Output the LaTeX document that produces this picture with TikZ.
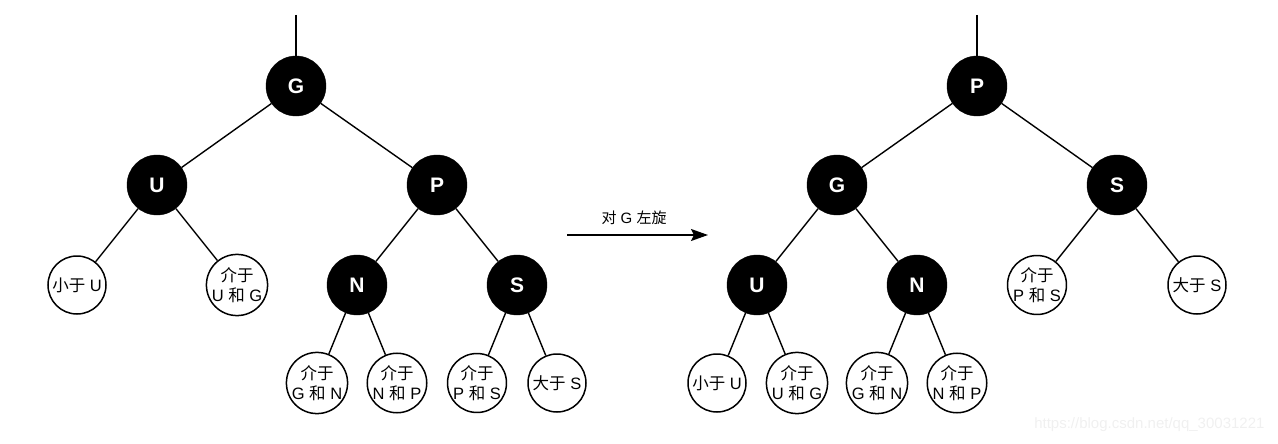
\documentclass[tikz,border=0pt]{standalone}
\usepackage{fontspec}
\setmainfont{Liberation Sans}
\newfontfamily\cjk{Noto Sans CJK SC}
\newcommand{\zh}[1]{{\cjk #1}}
\usetikzlibrary{arrows.meta}
\tikzset{
  blk/.style={circle, fill=black, draw=black, text=white, minimum size=60pt, inner sep=0pt,
    font=\fontsize{21}{24}\selectfont\bfseries},
  wht/.style={circle, draw=black, fill=white, line width=1.5pt, minimum size=58pt, inner sep=0pt,
    align=center, font=\fontsize{16.5}{19.5}\selectfont},
  edge/.style={black, line width=1.4pt}
}
\begin{document}
\begin{tikzpicture}[x=1pt, y=-1pt]
  \useasboundingbox (0,0) rectangle (1278,444);
  % left tree, before rotation
  \coordinate (topL) at (296,15);
  \node[blk] (lG) at (296,86) {G};
  \node[blk] (lU) at (157,185) {U};
  \node[blk] (lP) at (437,185) {P};
  \node[wht] (lx1) at (77,285) {\zh{小于} U};
  \node[wht] (lx2) at (237,285) {\zh{介于}\\U \zh{和} G};
  \node[blk] (lN) at (357,285) {N};
  \node[blk] (lS) at (517,285) {S};
  \node[wht] (lx3) at (317,383) {\zh{介于}\\G \zh{和} N};
  \node[wht] (lx4) at (397,383) {\zh{介于}\\N \zh{和} P};
  \node[wht] (lx5) at (477,383) {\zh{介于}\\P \zh{和} S};
  \node[wht] (lx6) at (557,383) {\zh{大于} S};
  \draw[edge] (topL) -- (lG);
  \draw[edge] (lG) -- (lU);
  \draw[edge] (lG) -- (lP);
  \draw[edge] (lU) -- (lx1);
  \draw[edge] (lU) -- (lx2);
  \draw[edge] (lP) -- (lN);
  \draw[edge] (lP) -- (lS);
  \draw[edge] (lN) -- (lx3);
  \draw[edge] (lN) -- (lx4);
  \draw[edge] (lS) -- (lx5);
  \draw[edge] (lS) -- (lx6);
  % the rotation arrow
  \coordinate (a1) at (567,235);
  \coordinate (a2) at (708,235);
  \draw[edge, -{Stealth[length=17pt, width=12pt, inset=3pt]}] (a1) -- (a2);
  \node[font=\fontsize{15}{18}\selectfont] (lbl) at (634,218) {\zh{对} G \zh{左旋}};
  % right tree, after rotation
  \coordinate (topR) at (977,15);
  \node[blk] (rP) at (977,86) {P};
  \node[blk] (rG) at (837,185) {G};
  \node[blk] (rS) at (1117,185) {S};
  \node[blk] (rU) at (757,285) {U};
  \node[blk] (rN) at (917,285) {N};
  \node[wht] (ry5) at (1037,285) {\zh{介于}\\P \zh{和} S};
  \node[wht] (ry6) at (1197,285) {\zh{大于} S};
  \node[wht] (ry1) at (717,383) {\zh{小于} U};
  \node[wht] (ry2) at (797,383) {\zh{介于}\\U \zh{和} G};
  \node[wht] (ry3) at (877,383) {\zh{介于}\\G \zh{和} N};
  \node[wht] (ry4) at (957,383) {\zh{介于}\\N \zh{和} P};
  \draw[edge] (topR) -- (rP);
  \draw[edge] (rP) -- (rG);
  \draw[edge] (rP) -- (rS);
  \draw[edge] (rG) -- (rU);
  \draw[edge] (rG) -- (rN);
  \draw[edge] (rS) -- (ry5);
  \draw[edge] (rS) -- (ry6);
  \draw[edge] (rU) -- (ry1);
  \draw[edge] (rU) -- (ry2);
  \draw[edge] (rN) -- (ry3);
  \draw[edge] (rN) -- (ry4);
  % watermark
  \node[anchor=east, text=black!6, font=\fontsize{15}{18}\selectfont] (mark) at (1268,425) {https://blog.csdn.net/qq\_30031221};
\end{tikzpicture}
\end{document}
